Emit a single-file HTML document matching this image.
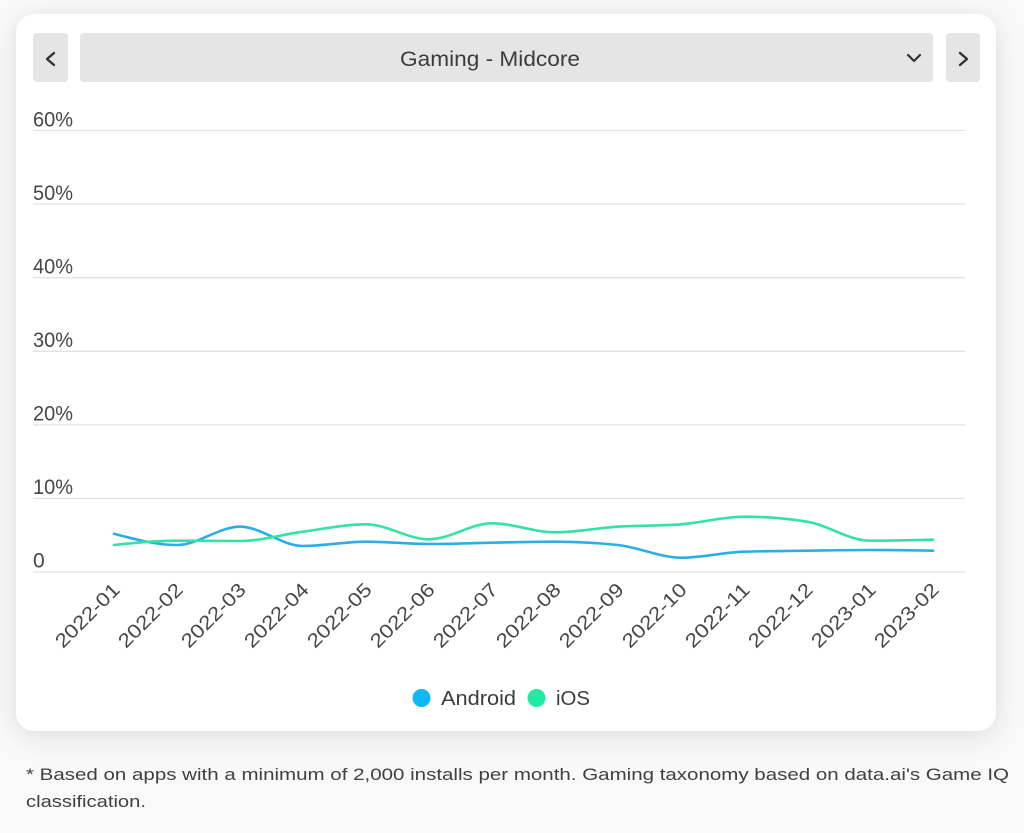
<!DOCTYPE html>
<html>
<head>
<meta charset="utf-8">
<style>
  html,body{margin:0;padding:0;}
  body{width:1024px;height:833px;background:#f9f9f9;position:relative;overflow:hidden;font-family:"Liberation Sans",sans-serif;}
  .card{position:absolute;left:16px;top:14px;width:980px;height:717px;background:#fff;border-radius:18px;box-shadow:0 6px 30px rgba(0,0,0,0.10),0 0 12px rgba(0,0,0,0.03);}
  svg{position:absolute;left:0;top:0;}
</style>
</head>
<body>
<div class="card"></div>
<svg width="1024" height="833" viewBox="0 0 1024 833" xmlns="http://www.w3.org/2000/svg" font-family="Liberation Sans, sans-serif">
  <!-- header buttons -->
  <rect x="33" y="33" width="35" height="49" rx="4" fill="#e5e5e5"/>
  <rect x="80" y="33" width="853" height="49" rx="4" fill="#e5e5e5"/>
  <rect x="946" y="33" width="34" height="49" rx="4" fill="#e5e5e5"/>
  <polyline points="54,53 47,59 54,65" fill="none" stroke="#333" stroke-width="2.4" stroke-linecap="round" stroke-linejoin="round"/>
  <polyline points="960,53 967,59 960,65" fill="none" stroke="#333" stroke-width="2.4" stroke-linecap="round" stroke-linejoin="round"/>
  <polyline points="908,55 914,61 920,55" fill="none" stroke="#333" stroke-width="2.2" stroke-linecap="round" stroke-linejoin="round"/>
  <text x="490" y="66" font-size="21" fill="#3c3c3c" text-anchor="middle" textLength="180" lengthAdjust="spacingAndGlyphs">Gaming - Midcore</text>

  <!-- gridlines -->
  <g stroke="#e2e2e2" stroke-width="1.3">
    <line x1="33" y1="130.5" x2="965" y2="130.5"/>
    <line x1="33" y1="204.1" x2="965" y2="204.1"/>
    <line x1="33" y1="277.7" x2="965" y2="277.7"/>
    <line x1="33" y1="351.3" x2="965" y2="351.3"/>
    <line x1="33" y1="424.9" x2="965" y2="424.9"/>
    <line x1="33" y1="498.4" x2="965" y2="498.4"/>
    <line x1="33" y1="572" x2="965" y2="572"/>
  </g>
  <!-- y labels -->
  <g font-size="21" fill="#474747">
    <text x="33" y="126.5" textLength="40" lengthAdjust="spacingAndGlyphs">60%</text>
    <text x="33" y="200" textLength="40" lengthAdjust="spacingAndGlyphs">50%</text>
    <text x="33" y="273.5" textLength="40" lengthAdjust="spacingAndGlyphs">40%</text>
    <text x="33" y="347" textLength="40" lengthAdjust="spacingAndGlyphs">30%</text>
    <text x="33" y="420.5" textLength="40" lengthAdjust="spacingAndGlyphs">20%</text>
    <text x="33" y="494" textLength="40" lengthAdjust="spacingAndGlyphs">10%</text>
    <text x="33" y="567.5">0</text>
  </g>

  <!-- series -->
  <path fill="none" stroke="#2aaee8" stroke-width="2.6" stroke-linecap="round" d="M114,533.7 C135,539.35 156,545 177,545 C198,545 219,526.7 240,526.7 C261,526.7 282,546 303,546 C324,546 345,541.7 366,541.7 C387,541.7 408,544 429,544 C450,544 471,543.08 492,542.7 C513,542.32 534,541.7 555,541.7 C576,541.7 597,542.8 618,545 C639,547.2 660,557.7 681,557.7 C702,557.7 723,552.37 744,551.7 C765,551.03 786,550.98 807,550.7 C828,550.42 849,550 870,550 C891,550 912,550.35 933,550.7"/>
  <path fill="none" stroke="#33e3a3" stroke-width="2.6" stroke-linecap="round" d="M114,545 C135,542.85 156,540.7 177,540.7 C198,540.7 219,541 240,541 C261,541 282,534.48 303,531.7 C324,528.92 345,524.3 366,524.3 C387,524.3 408,539.3 429,539.3 C450,539.3 471,523.3 492,523.3 C513,523.3 534,532.3 555,532.3 C576,532.3 597,528.03 618,526.7 C639,525.37 660,525.9 681,524.3 C702,522.7 723,516.7 744,516.7 C765,516.7 786,518.37 807,521.7 C828,525.03 849,540.7 870,540.7 C891,540.7 912,540.2 933,539.7"/>

  <!-- x labels -->
  <g font-size="19.5" fill="#474747" text-anchor="end">
    <text transform="translate(121,591) rotate(-45)" textLength="82" lengthAdjust="spacingAndGlyphs">2022-01</text>
    <text transform="translate(184,591) rotate(-45)" textLength="82" lengthAdjust="spacingAndGlyphs">2022-02</text>
    <text transform="translate(247,591) rotate(-45)" textLength="82" lengthAdjust="spacingAndGlyphs">2022-03</text>
    <text transform="translate(310,591) rotate(-45)" textLength="82" lengthAdjust="spacingAndGlyphs">2022-04</text>
    <text transform="translate(373,591) rotate(-45)" textLength="82" lengthAdjust="spacingAndGlyphs">2022-05</text>
    <text transform="translate(436,591) rotate(-45)" textLength="82" lengthAdjust="spacingAndGlyphs">2022-06</text>
    <text transform="translate(499,591) rotate(-45)" textLength="82" lengthAdjust="spacingAndGlyphs">2022-07</text>
    <text transform="translate(562,591) rotate(-45)" textLength="82" lengthAdjust="spacingAndGlyphs">2022-08</text>
    <text transform="translate(625,591) rotate(-45)" textLength="82" lengthAdjust="spacingAndGlyphs">2022-09</text>
    <text transform="translate(688,591) rotate(-45)" textLength="82" lengthAdjust="spacingAndGlyphs">2022-10</text>
    <text transform="translate(751,591) rotate(-45)" textLength="82" lengthAdjust="spacingAndGlyphs">2022-11</text>
    <text transform="translate(814,591) rotate(-45)" textLength="82" lengthAdjust="spacingAndGlyphs">2022-12</text>
    <text transform="translate(877,591) rotate(-45)" textLength="82" lengthAdjust="spacingAndGlyphs">2023-01</text>
    <text transform="translate(940,591) rotate(-45)" textLength="82" lengthAdjust="spacingAndGlyphs">2023-02</text>
  </g>

  <!-- legend -->
  <circle cx="421.5" cy="698" r="9" fill="#0db8f5"/>
  <text x="441" y="705" font-size="20" fill="#3c3c3c" textLength="75" lengthAdjust="spacingAndGlyphs">Android</text>
  <circle cx="536.5" cy="698" r="9" fill="#22eaa2"/>
  <text x="556" y="705" font-size="20" fill="#3c3c3c" textLength="34" lengthAdjust="spacingAndGlyphs">iOS</text>

  <!-- footnote -->
  <g font-size="17" fill="#404040">
    <text x="26" y="780" textLength="983" lengthAdjust="spacingAndGlyphs">* Based on apps with a minimum of 2,000 installs per month. Gaming taxonomy based on data.ai's Game IQ</text>
    <text x="26" y="807" textLength="120" lengthAdjust="spacingAndGlyphs">classification.</text>
  </g>
</svg>
</body>
</html>
